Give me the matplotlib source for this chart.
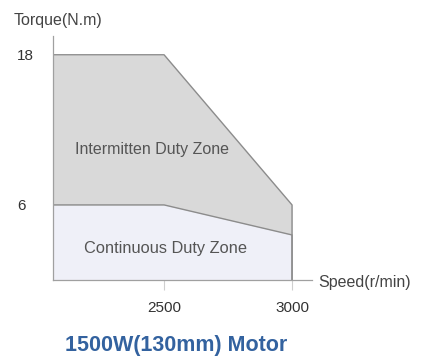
import matplotlib
matplotlib.use("Agg")
import matplotlib.pyplot as plt

plt.rcParams['font.family'] = ['Liberation Sans', 'DejaVu Sans']

# Torque-speed envelope (schematic)
speed_left = 2066
speed_pts = [speed_left, 2500, 3000]
intermittent_torque = [18, 18, 6]
continuous_torque = [6, 6, 3.6]
x_ticks = [2500, 3000]
y_ticks = [6, 18]
title = "1500W(130mm) Motor"

fig = plt.figure(figsize=(4.29, 3.6), dpi=100)
W, H = 429, 360
ax_left, ax_right, ax_top, ax_bottom = 53, 312, 36, 280
ax = fig.add_axes([ax_left / W, 1 - ax_bottom / H,
                   (ax_right - ax_left) / W, (ax_bottom - ax_top) / H])
ax.set_xlim(speed_left, 3078)
ax.set_ylim(0, 19.5)

edge = '#8c8c8c'
ax.fill_between(speed_pts, intermittent_torque, 0, color='#d9d9d9', lw=0)
ax.plot(speed_pts + [speed_pts[-1]], intermittent_torque + [0], color=edge, lw=1.0)
ax.fill_between(speed_pts, continuous_torque, 0, color='#eff0f8', lw=0)
ax.plot(speed_pts + [speed_pts[-1]], continuous_torque + [0], color=edge, lw=1.0)

for s in ['top', 'right']:
    ax.spines[s].set_visible(False)
for s in ['left', 'bottom']:
    ax.spines[s].set_color('#a0a0a0')
    ax.spines[s].set_linewidth(0.9)

ax.set_xticks(x_ticks)
ax.set_xticklabels([str(v) for v in x_ticks])
ax.set_yticks(y_ticks)
ax.set_yticklabels([str(v) for v in y_ticks], ha='left')
ax.tick_params(axis='x', direction='out', length=7, width=0.8, color='#cfcfcf',
               pad=8, labelsize=11, labelcolor='#333333')
ax.tick_params(axis='y', length=0, pad=26, labelsize=11, labelcolor='#333333')

ax.text(2453, 10.45, "Intermitten Duty Zone", ha='center', va='center',
        fontsize=11.5, color='#555555')
ax.text(2507, 2.55, "Continuous Duty Zone", ha='center', va='center',
        fontsize=11.8, color='#555555')

fig.text(14 / W, 1 - 20 / H, "Torque(N.m)", ha='left', va='center',
         fontsize=11.5, color='#444444')
fig.text(318 / W, 1 - 283 / H, "Speed(r/min)", ha='left', va='center',
         fontsize=11.5, color='#444444')
fig.text(176 / W, 1 - 345 / H, title, ha='center', va='center',
         fontsize=15.5, fontweight='bold', color='#33629f')

fig.savefig("out.png", dpi=100)
